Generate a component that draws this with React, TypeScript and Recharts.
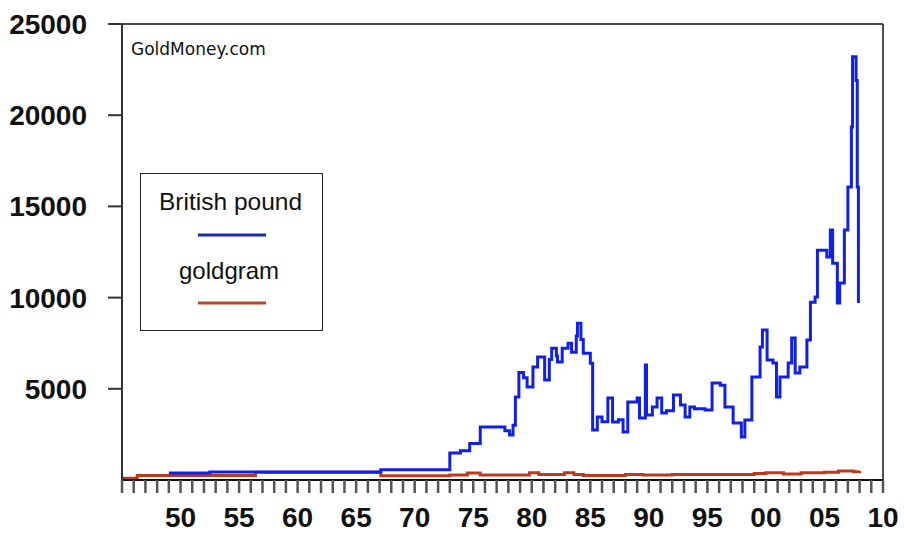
import React from 'react';
import {
  LineChart,
  Line,
  XAxis,
  YAxis,
  ReferenceLine,
  Legend,
} from 'recharts';

// British pound line (fractional years / value)
const poundYears = [
  1949.0, 1952.5, 1967.1, 1972.75, 1973.0, 1973.9, 1974.7, 1975.6,
  1976.9, 1977.7, 1978.1, 1978.4, 1978.6, 1978.9, 1979.3, 1979.6, 1980.1, 1980.5,
  1981.1, 1981.5, 1981.7, 1982.1, 1982.2, 1982.6, 1983.1, 1983.4, 1983.8, 1983.9,
  1984.2, 1984.4, 1985.0, 1985.2, 1985.6, 1986.0, 1986.5, 1986.9, 1987.4, 1987.8,
  1988.2, 1989.0, 1989.2, 1989.7, 1989.8, 1990.3, 1990.7, 1991.1, 1991.5, 1992.1,
  1992.7, 1993.1, 1993.5, 1993.9, 1994.8, 1995.4, 1996.1, 1996.5, 1997.2, 1997.9,
  1998.2, 1998.8, 1999.5, 1999.7, 2000.1, 2000.6, 2000.9, 2001.2, 2001.9, 2002.2,
  2002.5, 2002.9, 2003.5, 2003.8, 2004.2, 2004.4, 2005.2, 2005.5, 2005.7, 2006.1,
  2006.3, 2006.7, 2007.0, 2007.3, 2007.4, 2007.7, 2007.8, 2007.9,
];
const poundValues = [
  380, 440, 560, 560, 1480, 1600, 2000, 2900,
  2900, 2700, 2470, 3000, 4550, 5900, 5600, 5100, 6200, 6750,
  5480, 6600, 7230, 6800, 6470, 7230, 7500, 7000, 7900, 8600,
  7700, 6950, 6400, 2740, 3450, 3200, 4490, 3180, 3300, 2630,
  4270, 4490, 3400, 6300, 3560, 4000, 4490, 3670, 3800, 4660,
  4110, 3450, 4000, 3900, 3840, 5320, 5200, 4000, 3120, 2360,
  3290, 5650, 7290, 8220, 6580, 6410, 4550, 5650, 6410, 7780,
  5860, 6190, 7670, 9750, 10030, 12600, 12220, 13700, 11890, 9700,
  10800, 13700, 16060, 19350, 23200, 21900, 16060, 9700,
];

// goldgram line
const goldYears = [
  1945.0, 1946.3, 1956.4, 1967.1, 1973.0, 1974.5, 1975.6,
  1979.8, 1980.6, 1982.8, 1983.6, 1984.4, 1988.0, 1989.5, 1992.0,
  1996.0, 1999.0, 2000.0, 2001.5, 2003.0, 2005.0, 2006.2, 2007.5, 2008.0,
];
const goldValues = [
  100, 250, 430, 230, 280, 380, 280,
  400, 300, 400, 300, 250, 300, 280, 300,
  300, 350, 400, 330, 400, 430, 500, 450, 500,
];

const yTicks = [5000, 10000, 15000, 20000, 25000];
const xTicks = Array.from({ length: 66 }, (_, i) => 1945 + i);

const poundData = poundYears.map((year, i) => ({ year, value: poundValues[i] }));
const goldData = goldYears.map((year, i) => ({ year, value: goldValues[i] }));

const BLUE = '#1020e6';
const RED = '#bb3a1c';
const AXIS_FONT = '"Liberation Sans", Arial, sans-serif';

const YearTick = (props: any) => {
  const { x, y, payload } = props;
  const yr = payload.value as number;
  const label = yr >= 1950 && yr % 5 === 0 ? String(yr % 100).padStart(2, '0') : null;
  return (
    <g>
      <line x1={x} x2={x} y1={y} y2={y + 13} stroke="#555" strokeWidth={2.5} />
      {label && (
        <text
          x={x}
          y={y + 47}
          textAnchor="middle"
          fontSize={28}
          fontWeight="bold"
          fontFamily={AXIS_FONT}
          fill="#111"
        >
          {label}
        </text>
      )}
    </g>
  );
};

const LegendBox = () => (
  <div
    style={{
      width: 183,
      height: 158,
      boxSizing: 'border-box',
      border: '1.5px solid #222',
      background: '#fff',
    }}
  >
    <svg width={181} height={156}>
      <text x={18} y={36} fontSize={24.5} fontFamily={AXIS_FONT} fill="#111">
        British pound
      </text>
      <line x1={57} x2={125} y1={61} y2={61} stroke="#1a2ab0" strokeWidth={3} />
      <text x={38} y={105} fontSize={24} fontFamily={AXIS_FONT} fill="#111">
        goldgram
      </text>
      <line x1={57} x2={125} y1={129} y2={129} stroke="#b04a2c" strokeWidth={3} />
    </svg>
  </div>
);

export default function App() {
  return (
    <div style={{ position: 'absolute', left: 0, top: 0, width: 904, height: 533, background: '#fff' }}>
      <LineChart width={904} height={533} margin={{ top: 24, right: 21, bottom: 0, left: 0 }}>
        <XAxis
          type="number"
          dataKey="year"
          domain={[1945, 2010]}
          ticks={xTicks}
          interval={0}
          tickSize={0}
          tickMargin={0}
          tick={<YearTick />}
          height={53}
          axisLine={{ stroke: '#111', strokeWidth: 2 }}
          allowDataOverflow
        />
        <YAxis
          type="number"
          domain={[0, 25000]}
          ticks={yTicks}
          interval={0}
          width={122}
          tickSize={14}
          tickMargin={21}
          axisLine={{ stroke: '#333', strokeWidth: 2 }}
          tickLine={{ stroke: '#333', strokeWidth: 2 }}
          tick={{ fontSize: 28, fontWeight: 'bold', fontFamily: AXIS_FONT, fill: '#111' }}
          allowDataOverflow
        />
        <ReferenceLine y={25000} stroke="#111" strokeWidth={1.5} />
        <ReferenceLine x={2010} stroke="#111" strokeWidth={1.5} />
        <Legend
          layout="horizontal"
          verticalAlign="middle"
          align="center"
          content={<LegendBox />}
          wrapperStyle={{ position: 'absolute', left: 140, top: 173, width: 183, height: 158 }}
        />
        <Line
          data={goldData}
          dataKey="value"
          name="goldgram"
          type="stepAfter"
          stroke={RED}
          strokeWidth={3}
          dot={false}
          isAnimationActive={false}
        />
        <Line
          data={poundData}
          dataKey="value"
          name="British pound"
          type="stepAfter"
          stroke={BLUE}
          strokeWidth={3}
          dot={false}
          isAnimationActive={false}
        />
      </LineChart>
      <svg
        width={904}
        height={533}
        style={{ position: 'absolute', left: 0, top: 0, pointerEvents: 'none' }}
      >
        <text x={131} y={55} fontSize={17} fontFamily='"DejaVu Sans", Verdana, sans-serif' fill="#111">
          GoldMoney.com
        </text>
      </svg>
    </div>
  );
}
